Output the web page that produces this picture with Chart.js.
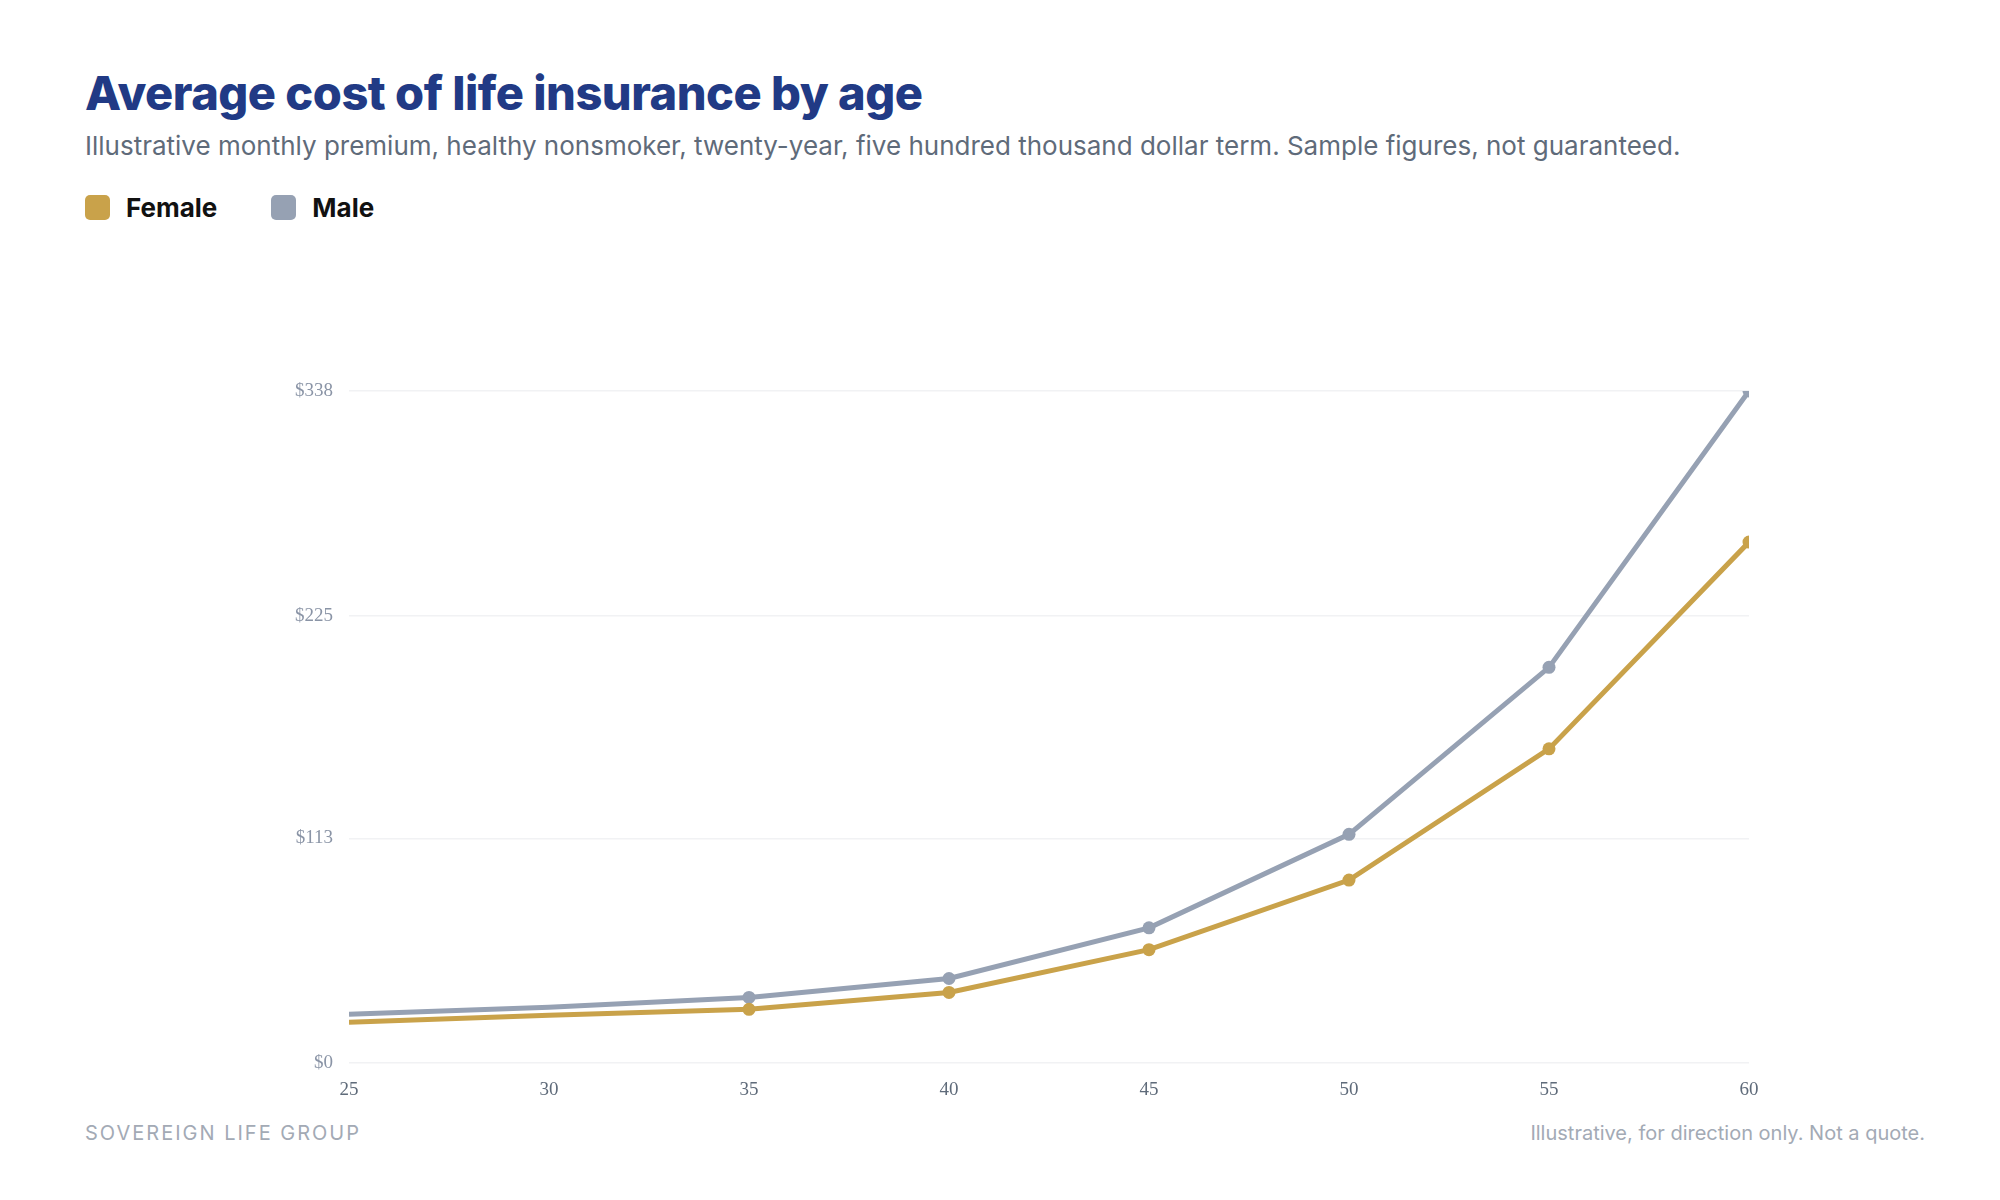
<!DOCTYPE html>
<html>
<head>
<meta charset="utf-8">
<script src="https://cdn.jsdelivr.net/npm/chart.js@4"></script>
<style>
  body { margin: 0; background: #fff; width: 2000px; height: 1200px; position: relative; font-family: Inter, "Noto Sans", sans-serif; }
  h1 { position: absolute; left: 85px; top: 64px; margin: 0; font-size: 47px; font-weight: 800; color: #213a85; letter-spacing: -0.5px; }
  .sub { position: absolute; left: 85px; top: 130px; font-size: 26px; color: #5f6b7a; }
  .legend { position: absolute; left: 85px; top: 192px; font-size: 26px; font-weight: 700; color: #111; }
  .legend span { display: inline-flex; align-items: center; margin-right: 54px; }
  .legend i { display: inline-block; width: 25px; height: 25px; border-radius: 5px; margin-right: 16px; }
  .foot { position: absolute; top: 1121px; font-size: 20px; color: #a3aab5; }
  #wrap { position: absolute; left: 0; top: 260px; width: 2000px; height: 843px; }
</style>
</head>
<body>
<h1>Average cost of life insurance by age</h1>
<div class="sub">Illustrative monthly premium, healthy nonsmoker, twenty-year, five hundred thousand dollar term. Sample figures, not guaranteed.</div>
<div class="legend"><span><i style="background:#c9a24a"></i>Female</span><span><i style="background:#96a1b3"></i>Male</span></div>
<div id="wrap"><canvas id="myChart"></canvas></div>
<div class="foot" style="left:85px;letter-spacing:2px;">SOVEREIGN LIFE GROUP</div>
<div class="foot" style="right:75px;">Illustrative, for direction only. Not a quote.</div>
<script>
var ages = [25, 30, 35, 40, 45, 50, 55, 60];
var female = [20.5, 24, 27, 35.5, 57, 92, 158, 262];
var male = [24.5, 28, 33, 42.5, 68, 115, 199, 338];
var yTicks = [0, 113, 225, 338];
var xTicks = [25, 30, 35, 40, 45, 50, 55, 60];
var radii = [0, 0, 6.5, 6.5, 6.5, 6.5, 6.5, 6.5];

function pts(vals) { return ages.map(function (a, i) { return { x: a, y: vals[i] }; }); }
var tickFont = { family: "Liberation Serif", size: 19 };

var ctx = document.getElementById('myChart').getContext('2d');
new Chart(ctx, {
  type: 'line',
  data: {
    datasets: [
      { label: 'Female', data: pts(female), borderColor: '#c9a24a', backgroundColor: '#c9a24a', borderWidth: 5, pointRadius: radii, pointBorderWidth: 0, tension: 0 },
      { label: 'Male', data: pts(male), borderColor: '#96a1b3', backgroundColor: '#96a1b3', borderWidth: 5, pointRadius: radii, pointBorderWidth: 0, tension: 0 }
    ]
  },
  options: {
    responsive: true,
    maintainAspectRatio: false,
    animation: false,
    layout: { padding: { left: 0, right: 251, top: 131, bottom: 0 } },
    plugins: { legend: { display: false }, tooltip: { enabled: false } },
    scales: {
      x: {
        type: 'linear', min: 25, max: 60,
        afterBuildTicks: function (s) { s.ticks = xTicks.map(function (v) { return { value: v }; }); },
        afterFit: function (s) { s.height = 40; },
        grid: { display: false }, border: { display: false },
        ticks: { color: '#5f6b7a', font: tickFont, padding: 8 }
      },
      y: {
        min: 0, max: 338,
        afterBuildTicks: function (s) { s.ticks = yTicks.map(function (v) { return { value: v }; }); },
        afterFit: function (s) { s.width = 349; },
        grid: { color: '#f1f2f4', lineWidth: 1.5, drawTicks: false }, border: { display: false },
        ticks: { color: '#8a94a6', font: tickFont, padding: 16, callback: function (v) { return '$' + v; } }
      }
    }
  }
});
</script>
</body>
</html>
